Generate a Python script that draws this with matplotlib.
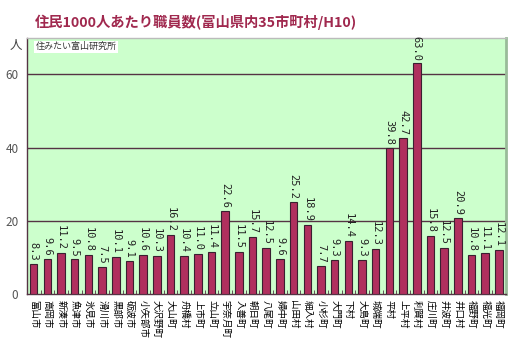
import numpy as np
import matplotlib.pyplot as plt

plt.rcParams['font.family'] = ['Noto Sans CJK JP', 'DejaVu Sans']

towns = ['富山市', '高岡市', '新湊市', '魚津市', '氷見市', '滑川市', '黒部市', '砺波市',
         '小矢部市', '大沢野町', '大山町', '舟橋村', '上市町', '立山町', '宇奈月町', '入善町',
         '朝日町', '八尾町', '婦中町', '山田村', '細入村', '小杉町', '大門町', '下村',
         '大島町', '城端町', '平村', '上平村', '利賀村', '庄川町', '井波町', '井口村',
         '福野町', '福光町', '福岡町']
staff = [8.3, 9.6, 11.2, 9.5, 10.8, 7.5, 10.1, 9.1,
         10.6, 10.3, 16.2, 10.4, 11.0, 11.4, 22.6, 11.5,
         15.7, 12.5, 9.6, 25.2, 18.9, 7.7, 9.3, 14.4,
         9.3, 12.3, 39.8, 42.7, 63.0, 15.8, 12.5, 20.9,
         10.8, 11.1, 12.1]
yticks = [0, 20, 40, 60]

fig = plt.figure(figsize=(5.16, 3.38), dpi=100)
ax = fig.add_axes([0.052, 0.130, 0.928, 0.758])
ax.set_facecolor('#ccffcc')

x = np.arange(len(towns))
ax.bar(x, staff, width=0.55, color='#b0305e', edgecolor='#3a2030', linewidth=0.8, zorder=3)
# value labels, read top to bottom like the town names
for xi, v in zip(x, staff):
    ax.text(xi, v + 0.8, f'{v:.1f}', rotation=270, ha='center', va='bottom',
            fontsize=7.5, family='DejaVu Sans Mono', color='#222222', zorder=4)

ax.set_xlim(-0.5, len(towns) - 0.5)
ax.set_ylim(0, 70)
ax.set_yticks(yticks)
ax.set_yticklabels([str(t) for t in yticks], fontsize=8.5, color='#555555')
ax.tick_params(axis='y', length=0, pad=6)
for t in yticks[1:]:
    ax.axhline(t, color='#553344', linewidth=1.0, zorder=2)

ax.set_xticks(x)
ax.set_xticklabels(towns, rotation=270, fontsize=6.8, va='top', ha='center')
ax.tick_params(axis='x', length=0, pad=4)
ax.set_xticks(np.arange(len(towns) + 1) - 0.5, minor=True)
ax.tick_params(axis='x', which='minor', direction='in', length=3, color='#553344')

for side in ['left', 'bottom']:
    ax.spines[side].set_color('#553344')
    ax.spines[side].set_linewidth(1.0)
ax.spines['top'].set_color('#bbbbbb')
ax.spines['top'].set_linewidth(1.0)
ax.spines['right'].set_color('#99bb99')
ax.spines['right'].set_linewidth(2.0)

fig.text(0.068, 0.935, '住民1000人あたり職員数(富山県内35市町村/H10)', fontsize=10.3,
         color='#a0284e', fontweight='bold', va='center', ha='left')
fig.text(0.018, 0.866, '人', fontsize=9, color='#444444', va='center', ha='left')
ax.text(0.018, 0.965, '住みたい富山研究所', transform=ax.transAxes, fontsize=6.5,
        style='italic', color='#333333', va='center', ha='left',
        bbox=dict(facecolor='white', edgecolor='none', pad=1), zorder=5)

fig.savefig('out.png', dpi=100)
